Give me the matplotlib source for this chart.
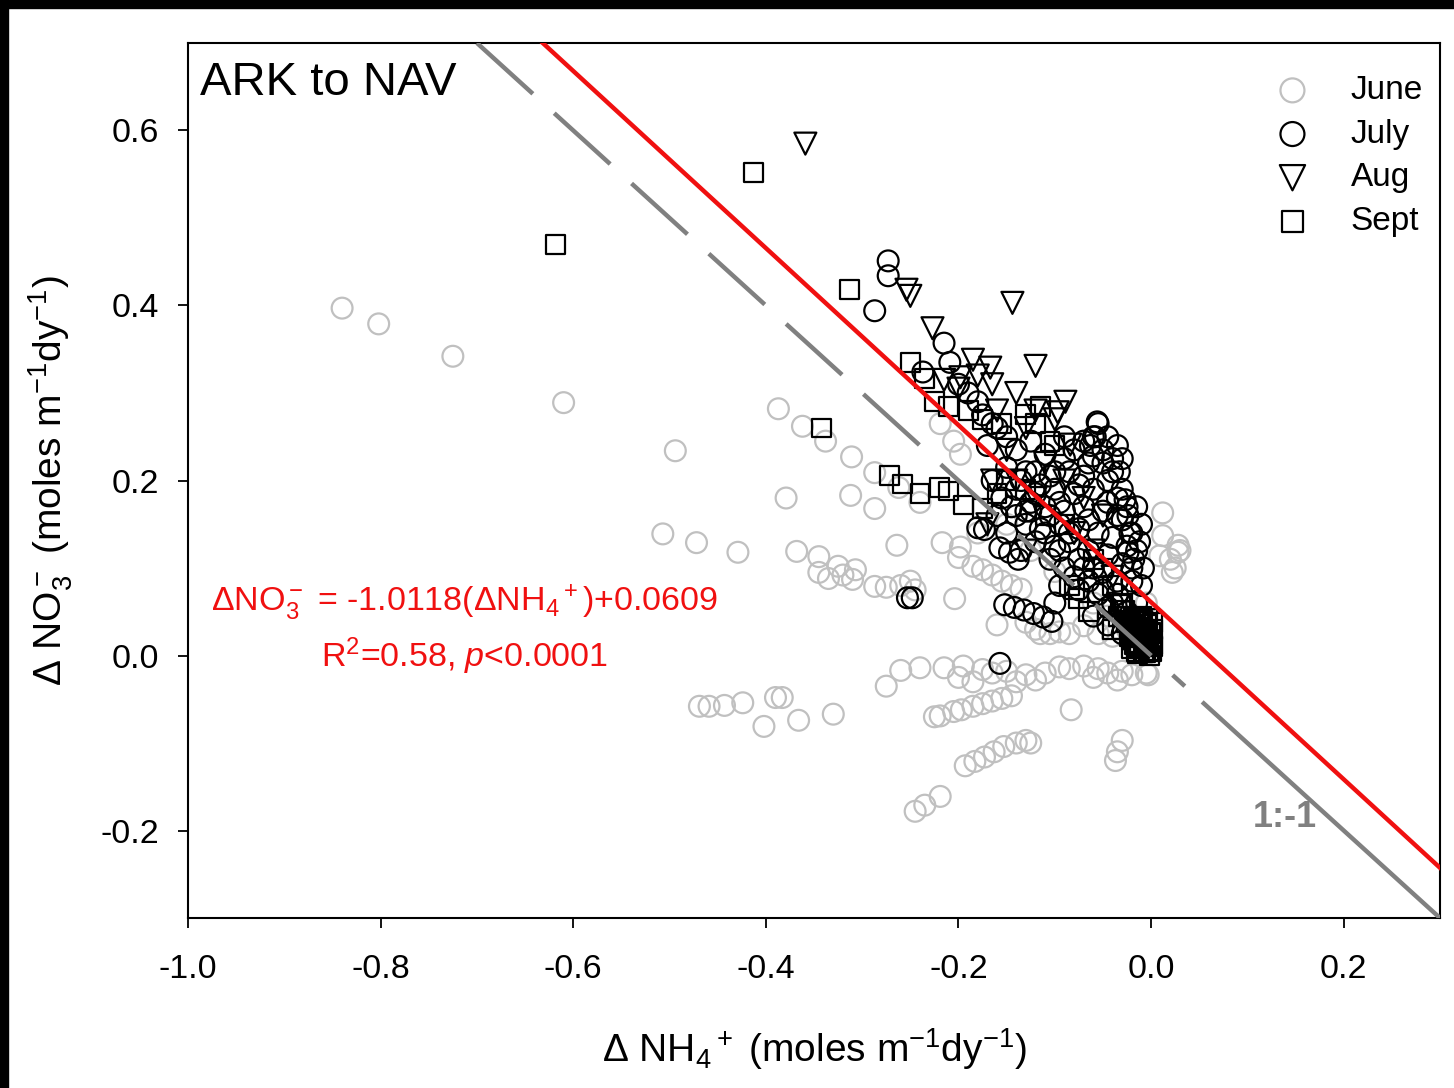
"""
ARK to NAV: ΔNO3- vs ΔNH4+ scatter by month, with regression line and 1:-1 line
"""

import matplotlib
matplotlib.use('Agg')
import matplotlib.pyplot as plt
from matplotlib.patches import Rectangle

plt.rcParams['font.family'] = ['Liberation Sans', 'DejaVu Sans']
plt.rcParams['mathtext.fontset'] = 'custom'
plt.rcParams['mathtext.rm'] = 'Liberation Sans'
plt.rcParams['mathtext.it'] = 'Liberation Sans:italic'
plt.rcParams['mathtext.default'] = 'regular'

# ---- data ----
june_x = [-0.840, -0.802, -0.725, -0.610, -0.494,
          -0.387, -0.362, -0.338, -0.311, -0.287, -0.262, -0.240,
          -0.219, -0.205, -0.198,
          -0.379, -0.312, -0.287, -0.264,
          -0.507, -0.472, -0.429,
          -0.368, -0.345, -0.325, -0.307, -0.320, -0.345, -0.335, -0.310,
          -0.287, -0.275, -0.260, -0.245, -0.250,
          -0.217, -0.198, -0.200, -0.185, -0.175, -0.165, -0.155, -0.145, -0.135,
          -0.204, -0.130, -0.120, -0.115, -0.105, -0.095, -0.085,
          -0.070, -0.055, -0.040, -0.100, -0.160,
          -0.275, -0.260, -0.240, -0.215, -0.195, -0.175, -0.165, -0.150, -0.130,
          -0.110, -0.095, -0.085, -0.070, -0.055, -0.045, -0.030, -0.020, -0.005,
          -0.200, -0.185, -0.140, -0.120, -0.060, -0.035, -0.003,
          -0.469, -0.459, -0.443, -0.424, -0.390, -0.383, -0.366, -0.330, -0.402,
          -0.225, -0.219, -0.205, -0.197, -0.185, -0.175, -0.165, -0.155, -0.145,
          -0.193, -0.183, -0.173, -0.163, -0.153, -0.140, -0.130, -0.125,
          -0.245, -0.235, -0.219,
          -0.083, -0.030, -0.035, -0.037,
          0.012, 0.012, 0.009, 0.020, 0.028, 0.028, 0.025, 0.022, 0.030,
          -0.180, -0.150, -0.125, -0.060, -0.045, -0.025, -0.015, -0.005]
june_y = [0.397, 0.379, 0.342, 0.289, 0.234,
          0.282, 0.262, 0.245, 0.227, 0.209, 0.192, 0.175,
          0.265, 0.245, 0.230,
          0.180, 0.183, 0.168, 0.126,
          0.139, 0.129, 0.118,
          0.119, 0.113, 0.102, 0.098, 0.092, 0.095, 0.088, 0.087,
          0.079, 0.078, 0.080, 0.075, 0.085,
          0.129, 0.124, 0.112, 0.102, 0.098, 0.092, 0.085, 0.080, 0.076,
          0.065, 0.038, 0.030, 0.025, 0.025, 0.027, 0.025,
          0.034, 0.025, 0.022, 0.096, 0.035,
          -0.035, -0.017, -0.014, -0.014, -0.012, -0.016, -0.020, -0.018, -0.022,
          -0.020, -0.013, -0.015, -0.012, -0.015, -0.020, -0.018, -0.022, -0.020,
          -0.025, -0.030, -0.030, -0.028, -0.025, -0.028, -0.022,
          -0.058, -0.058, -0.057, -0.054, -0.048, -0.048, -0.074, -0.067, -0.081,
          -0.070, -0.069, -0.064, -0.062, -0.058, -0.055, -0.052, -0.049, -0.046,
          -0.126, -0.121, -0.116, -0.110, -0.104, -0.100, -0.097, -0.100,
          -0.178, -0.171, -0.161,
          -0.062, -0.097, -0.110, -0.120,
          0.163, 0.137, 0.114, 0.110, 0.126, 0.118, 0.100, 0.095, 0.120,
          0.140, 0.150, 0.120, 0.060, 0.045, 0.030, 0.040, 0.060]

july_x = [-0.273, -0.273, -0.287, -0.215, -0.209, -0.237,
          -0.253, -0.248, -0.157,
          -0.152, -0.142, -0.132, -0.122, -0.112, -0.103,
          -0.180, -0.173, -0.157, -0.147, -0.138,
          -0.056, -0.058, -0.063,
          -0.027, -0.024, -0.022, -0.024,
          -0.200, -0.190, -0.180, -0.175, -0.165,
          -0.055, -0.060, -0.070,
          -0.160, -0.150, -0.125, -0.090, -0.080,
          -0.170, -0.140, -0.110, -0.060, -0.050,
          -0.150, -0.130, -0.105, -0.085, -0.070, -0.045,
          -0.140, -0.120, -0.100, -0.080, -0.060, -0.035, -0.025,
          -0.145, -0.125, -0.110, -0.090, -0.070, -0.050, -0.030, -0.020,
          -0.130, -0.115, -0.095, -0.075, -0.055, -0.040, -0.025,
          -0.120, -0.100, -0.085, -0.065, -0.045, -0.030,
          -0.105, -0.090, -0.070, -0.050, -0.035,
          -0.095, -0.075, -0.055, -0.040, -0.025,
          -0.060, -0.045, -0.030, -0.020,
          -0.165, -0.135, -0.100, -0.040, -0.033,
          -0.115, -0.095, -0.075, -0.065, -0.085, -0.105, -0.125, -0.045,
          -0.035, -0.015, -0.020, -0.010, -0.015, -0.030, -0.040, -0.065,
          -0.090, -0.100, -0.120, -0.135, -0.110, -0.095, -0.075, -0.060,
          -0.080, -0.065, -0.050, -0.035, -0.045, -0.015, -0.010, -0.020,
          -0.130, -0.140, -0.155, -0.160, -0.150, -0.035, -0.045, -0.050,
          -0.030, -0.012, -0.018, -0.008]
july_y = [0.451, 0.434, 0.394, 0.357, 0.335, 0.324,
          0.066, 0.066, -0.009,
          0.058, 0.055, 0.052, 0.048, 0.044, 0.039,
          0.146, 0.144, 0.123, 0.118, 0.110,
          0.267, 0.250, 0.240,
          0.178, 0.160, 0.140, 0.118,
          0.310, 0.300, 0.290, 0.275, 0.265,
          0.265, 0.250, 0.245,
          0.260, 0.250, 0.245, 0.250, 0.235,
          0.240, 0.235, 0.230, 0.228, 0.220,
          0.215, 0.210, 0.205, 0.210, 0.205, 0.200,
          0.190, 0.185, 0.190, 0.185, 0.190, 0.180, 0.170,
          0.170, 0.165, 0.170, 0.165, 0.170, 0.165, 0.155, 0.140,
          0.150, 0.145, 0.150, 0.145, 0.140, 0.135, 0.125,
          0.130, 0.125, 0.130, 0.120, 0.115, 0.105,
          0.110, 0.100, 0.100, 0.095, 0.085,
          0.080, 0.075, 0.070, 0.060, 0.050,
          0.045, 0.035, 0.025, 0.015,
          0.200, 0.120, 0.060, 0.225, 0.210,
          0.195, 0.175, 0.195, 0.155, 0.140, 0.160, 0.175, 0.175,
          0.160, 0.120, 0.100, 0.150, 0.170, 0.190, 0.210, 0.220,
          0.225, 0.210, 0.210, 0.200, 0.140, 0.120, 0.110, 0.100,
          0.090, 0.085, 0.075, 0.070, 0.055, 0.060, 0.080, 0.085,
          0.165, 0.160, 0.180, 0.160, 0.140, 0.240, 0.250, 0.235,
          0.225, 0.130, 0.110, 0.100]

aug_x = [-0.359, -0.254, -0.250, -0.144, -0.227, -0.120,
         -0.185, -0.167, -0.215, -0.198, -0.089, -0.097, -0.084,
         -0.180, -0.165, -0.200, -0.140, -0.120, -0.160, -0.100,
         -0.130, -0.150, -0.110, -0.090, -0.070, -0.050, -0.120,
         -0.140, -0.060, -0.040, -0.080, -0.165, -0.170, -0.130]
aug_y = [0.585, 0.418, 0.411, 0.403, 0.374, 0.331,
         0.338, 0.329, 0.315, 0.318, 0.290, 0.278, 0.241,
         0.320, 0.310, 0.305, 0.300, 0.280, 0.280, 0.270,
         0.260, 0.235, 0.220, 0.200, 0.180, 0.160, 0.180,
         0.200, 0.120, 0.090, 0.140, 0.200, 0.150, 0.120]

sept_x = [-0.413, -0.618, -0.313, -0.342, -0.250, -0.235,
          -0.272, -0.258, -0.240, -0.220, -0.210, -0.195, -0.175, -0.160,
          -0.225, -0.210, -0.190, -0.175, -0.155, -0.130, -0.115, -0.120,
          -0.105, -0.100,
          -0.085, -0.080, -0.075, -0.060, -0.050, -0.040, -0.030,
          -0.090, -0.110, -0.130, -0.150, -0.065,
          -0.025, -0.020, -0.015, -0.010, -0.005, 0.000, -0.012, -0.005,
          0.000, -0.018, -0.008, -0.002, -0.030, -0.040, 0.000, -0.015,
          -0.022, -0.016, -0.010, -0.004, 0.001, -0.020, -0.012, -0.006,
          0.002, -0.024, -0.014, -0.003,
          -0.019, -0.013, -0.007, -0.001, -0.017, -0.011, -0.005, 0.001,
          -0.021, -0.015, -0.009, -0.003, -0.016, -0.010, -0.004, 0.002,
          -0.023, -0.018, -0.012, -0.006, -0.028, -0.034, -0.026, -0.032]
sept_y = [0.552, 0.470, 0.418, 0.260, 0.335, 0.317,
          0.206, 0.196, 0.185, 0.192, 0.188, 0.172, 0.168, 0.185,
          0.290, 0.285, 0.280, 0.270, 0.265, 0.275, 0.285, 0.265,
          0.245, 0.240,
          0.080, 0.075, 0.065, 0.110, 0.100, 0.080, 0.060,
          0.150, 0.160, 0.190, 0.200, 0.050,
          0.045, 0.035, 0.030, 0.020, 0.010, 0.005, 0.040, 0.035,
          0.025, 0.020, 0.005, 0.000, 0.030, 0.030, 0.015, 0.010,
          0.028, 0.042, 0.045, 0.042, 0.038, 0.008, 0.015, 0.022,
          0.030, 0.040, 0.002, 0.018,
          0.033, 0.036, 0.030, 0.026, 0.012, 0.024, 0.016, 0.010,
          0.038, 0.004, 0.040, 0.006, 0.028, 0.032, 0.020, 0.012,
          0.022, 0.043, 0.008, 0.003, 0.052, 0.045, 0.038, 0.058]

# regression and 1:-1 reference
fit_slope = -1.0118
fit_intercept = 0.0609
line_x = [-0.70, 0.30]
ref_dash_x = [-0.70, 0.035]
ref_solid_x = [0.053, 0.30]

x_ticks = [-1.0, -0.8, -0.6, -0.4, -0.2, 0.0, 0.2]
y_ticks = [-0.2, 0.0, 0.2, 0.4, 0.6]

# ---- figure ----
fig = plt.figure(figsize=(14.54, 10.88), dpi=100)
ax = fig.add_axes([0.1293, 0.1562, 0.8611, 0.8043])

# black bands at top/left of the original scan
fig.patches.append(Rectangle((0, 1 - 8 / 1088), 1, 8 / 1088,
                             transform=fig.transFigure, color='black', zorder=10))
fig.patches.append(Rectangle((0, 0), 8 / 1454, 1,
                             transform=fig.transFigure, color='black', zorder=10))

mk = dict(facecolors='none', linewidths=1.6)
ax.scatter(june_x, june_y, s=225, marker='o', edgecolors='#c0c0c0', label='June', zorder=2, **mk)
ax.scatter(july_x, july_y, s=225, marker='o', edgecolors='black', label='July', zorder=3, **mk)
ax.scatter(aug_x, aug_y, s=250, marker='v', edgecolors='black', label='Aug', zorder=3, **mk)
ax.scatter(sept_x, sept_y, s=185, marker='s', edgecolors='black', label='Sept', zorder=3, **mk)

# lines
ax.plot(line_x, [fit_slope * v + fit_intercept for v in line_x],
        color='#f01010', linewidth=3.2, zorder=4)
ax.plot(ref_dash_x, [-v for v in ref_dash_x], color='#808080', linewidth=3.2,
        dashes=(17, 6.5), zorder=4)
ax.plot(ref_solid_x, [-v for v in ref_solid_x], color='#808080', linewidth=3.2,
        solid_capstyle='butt', zorder=4)

ax.set_xlim(-1.0, 0.3)
ax.set_ylim(-0.3, 0.7)
ax.set_xticks(x_ticks)
ax.set_yticks(y_ticks)
ax.set_xticklabels([f'{v:.1f}' for v in x_ticks])
ax.set_yticklabels([f'{v:.1f}' for v in y_ticks])
ax.tick_params(direction='out', length=7, width=1.3, labelsize=24.5)
ax.tick_params(axis='x', pad=19)
ax.tick_params(axis='y', pad=14)
for sp in ax.spines.values():
    sp.set_linewidth(1.5)

ax.set_xlabel(r'$\Delta$ NH$_4$$^+$ (moles m$^{-1}$dy$^{-1}$)', fontsize=28)
ax.set_ylabel(r'$\Delta$ NO$_3^-$ (moles m$^{-1}$dy$^{-1}$)', fontsize=28)
ax.xaxis.set_label_coords(0.50, -0.124)
ax.yaxis.set_label_coords(-0.090, 0.50)

ax.text(0.0096, 0.979, 'ARK to NAV', transform=ax.transAxes,
        fontsize=34, ha='left', va='top')

ax.text(0.221, 0.36, r'$\Delta$NO$_3^-$ = -1.0118($\Delta$NH$_4$$^+$)+0.0609',
        transform=ax.transAxes, fontsize=24.5, color='#f01010', ha='center', va='center')
ax.text(0.221, 0.299, r'R$^2$=0.58, $\it{p}$<0.0001',
        transform=ax.transAxes, fontsize=24.5, color='#f01010', ha='center', va='center')

ax.text(0.139, -0.185, '1:-1', fontsize=26, fontweight='bold', color='#808080',
        ha='center', va='center')

ax.legend(loc='upper right', bbox_to_anchor=(0.9968, 0.9785), frameon=False,
          fontsize=24, handletextpad=0.74, labelspacing=0.38, borderaxespad=0,
          scatterpoints=1, markerscale=1.15)

plt.savefig('out.png', dpi=100)
plt.close()
